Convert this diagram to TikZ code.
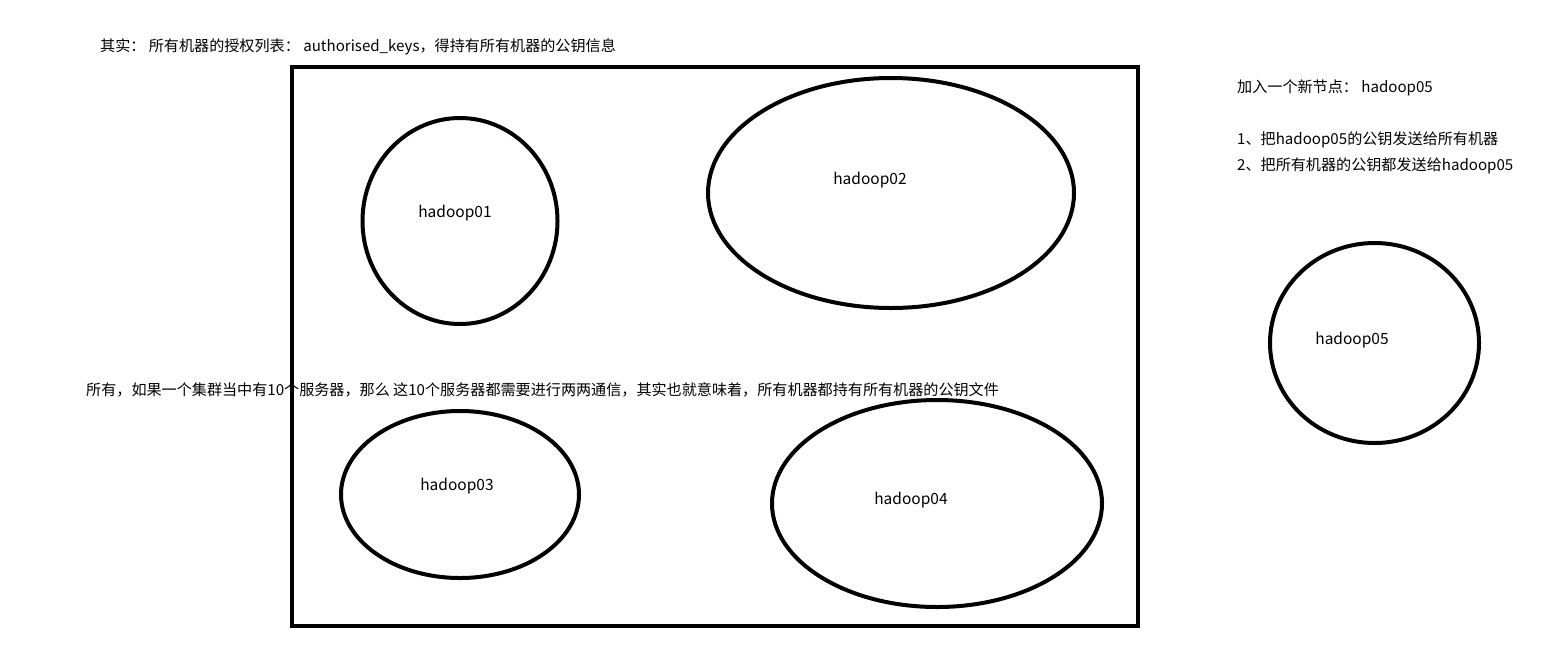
\documentclass[tikz,border=0pt]{standalone}
\usepackage{fontspec}
\setmainfont{Noto Sans CJK SC}
\usetikzlibrary{shapes.geometric}
\tikzset{
  host/.style={draw=black, line width=4pt, ellipse, inner sep=0pt},
  lbl/.style={font=\fontsize{15.5}{17}\selectfont, inner sep=0pt, text=black},
  note/.style={font=\fontsize{15.1}{17}\selectfont, inner sep=0pt, anchor=west, text=black},
}
\begin{document}
\begin{tikzpicture}[x=1pt,y=-1pt]
\useasboundingbox (0,0) rectangle (1565,665);
\node[note] (t1) at (100,47) {其实： 所有机器的授权列表： authorised\_keys，得持有所有机器的公钥信息};
\node[note] (t2) at (86,390) {所有，如果一个集群当中有10个服务器，那么 这10个服务器都需要进行两两通信，其实也就意味着，所有机器都持有所有机器的公钥文件};
\node[note] (t3) at (1237,88) {加入一个新节点： hadoop05};
\node[note] (t4) at (1237,140) {1、把hadoop05的公钥发送给所有机器};
\node[note] (t5) at (1237,166) {2、把所有机器的公钥都发送给hadoop05};
\node[draw=black, line width=4.5pt, minimum width=846pt, minimum height=559pt, inner sep=0pt] (box) at (715,346.5) {};
\node[host, minimum width=195pt, minimum height=206pt] (h1) at (460,221) {};
\node[host, minimum width=366pt, minimum height=230pt] (h2) at (891,193) {};
\node[host, minimum width=238pt, minimum height=167pt] (h3) at (460,494.5) {};
\node[host, minimum width=330pt, minimum height=207pt] (h4) at (937,503.5) {};
\node[host, minimum width=209pt, minimum height=200pt] (h5) at (1374.5,343) {};
\node[lbl] (l1) at (455,213) {hadoop01};
\node[lbl] (l2) at (870,180) {hadoop02};
\node[lbl] (l3) at (457,486) {hadoop03};
\node[lbl] (l4) at (911,500) {hadoop04};
\node[lbl] (l5) at (1352,340) {hadoop05};
\end{tikzpicture}
\end{document}
